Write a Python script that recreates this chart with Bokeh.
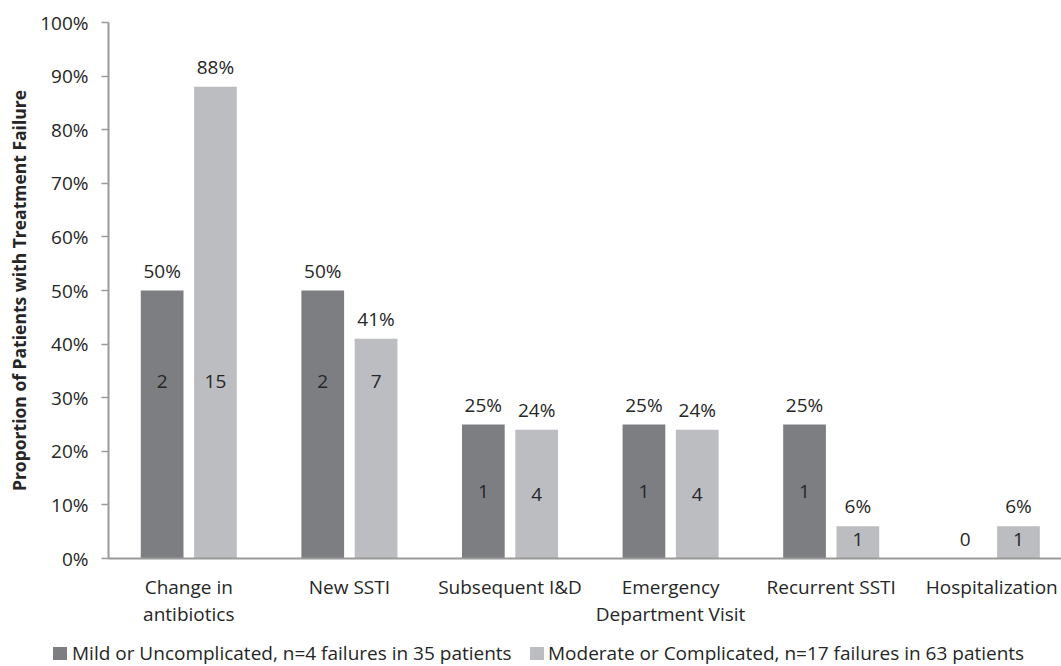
import numpy as np
from bokeh.plotting import figure
from bokeh.layouts import column
from bokeh.models import Range1d, FixedTicker, ColumnDataSource, Div
from bokeh.core.properties import value
from bokeh.embed import file_html
from bokeh.resources import INLINE

categories = ["Change in\nantibiotics", "New SSTI", "Subsequent I&D",
              "Emergency\nDepartment Visit", "Recurrent SSTI", "Hospitalization"]
mild_pct = [50, 50, 25, 25, 25, 0]
mild_n = [2, 2, 1, 1, 1, 0]
mod_pct = [88, 41, 24, 24, 6, 6]
mod_n = [15, 7, 4, 4, 1, 1]
y_ticks = list(range(0, 101, 10))
legend_labels = ["Mild or Uncomplicated, n=4 failures in 35 patients",
                 "Moderate or Complicated, n=17 failures in 63 patients"]

DARK = "#7d7e82"
LIGHT = "#bcbdc1"
TXT = "#262626"
AX = "#9a9a9a"
FONT = "Open Sans"
FS = "19px"

centers = np.arange(len(categories)) + 0.5
off = 0.166
bw = 0.266

def count_y(v):
    v = np.asarray(v, dtype=float)
    return np.where(v >= 30, 33.0, np.maximum(v / 2.0, 3.5))

src_mild = ColumnDataSource(dict(
    x=centers - off, top=mild_pct,
    pct=[f"{v}%" if v > 0 else "" for v in mild_pct],
    n=[str(v) for v in mild_n], ny=count_y(mild_pct)))
src_mod = ColumnDataSource(dict(
    x=centers + off, top=mod_pct,
    pct=[f"{v}%" if v > 0 else "" for v in mod_pct],
    n=[str(v) for v in mod_n], ny=count_y(mod_pct)))

p = figure(width=1061, height=636, x_range=Range1d(0, 5.934), y_range=Range1d(0, 100),
           output_backend="svg", toolbar_location=None,
           min_border_left=108, min_border_right=0, min_border_top=22, min_border_bottom=78)
p.outline_line_color = None
p.xgrid.visible = False
p.ygrid.visible = False

p.vbar(x="x", top="top", width=bw, source=src_mild, fill_color=DARK, line_color=None)
p.vbar(x="x", top="top", width=bw, source=src_mod, fill_color=LIGHT, line_color=None)

for s in (src_mild, src_mod):
    p.text(x="x", y="top", text="pct", source=s, text_align="center", text_baseline="middle",
           y_offset=-20, text_font=value(FONT), text_font_size=FS, text_color=TXT)
    p.text(x="x", y="ny", text="n", source=s, text_align="center", text_baseline="middle",
           text_font=value(FONT), text_font_size=FS, text_color=TXT)

# y axis
ya = p.yaxis[0]
ya.ticker = FixedTicker(ticks=y_ticks)
ya.major_label_overrides = {t: f"{t}%" for t in y_ticks}
ya.axis_label = "Proportion of Patients with Treatment Failure"
ya.axis_label_text_font = FONT
ya.axis_label_text_font_style = "bold"
ya.axis_label_text_font_size = "17.5px"
ya.axis_label_text_color = TXT
ya.axis_label_standoff = 6
ya.major_label_text_font = FONT
ya.major_label_text_font_size = FS
ya.major_label_text_color = TXT
ya.major_label_standoff = 13
ya.axis_line_color = AX
ya.axis_line_width = 2
ya.major_tick_line_color = AX
ya.major_tick_line_width = 1.5
ya.major_tick_out = 7
ya.major_tick_in = 0
ya.minor_tick_line_color = None

# x axis
xa = p.xaxis[0]
xa.ticker = FixedTicker(ticks=list(centers))
xa.major_label_overrides = {float(c): lab for c, lab in zip(centers, categories)}
xa.major_label_text_font = FONT
xa.major_label_text_font_size = FS
xa.major_label_text_color = TXT
xa.major_label_text_line_height = 1.05
xa.major_label_standoff = 9
xa.axis_line_color = AX
xa.axis_line_width = 2
xa.major_tick_line_color = None
xa.minor_tick_line_color = None

# legend strip as HTML
items_html = ""
for left_sq, left_tx, color, label in zip([53, 530], [72, 548], [DARK, LIGHT], legend_labels):
    items_html += (f'<span style="position:absolute;left:{left_sq}px;top:11px;width:14px;'
                   f'height:13px;background:{color};"></span>'
                   f'<span style="position:absolute;left:{left_tx}px;top:5px;line-height:24px;'
                   f'white-space:nowrap;">{label}</span>')
leg_html = (f'<div style="position:relative;width:1061px;height:30px;font-family:\'{FONT}\';'
            f'font-size:{FS};color:{TXT};">{items_html}</div>')
lg = Div(text=leg_html, width=1061, height=30, margin=0)

open("out.html", "w").write(file_html(column(p, lg, spacing=0), INLINE))
